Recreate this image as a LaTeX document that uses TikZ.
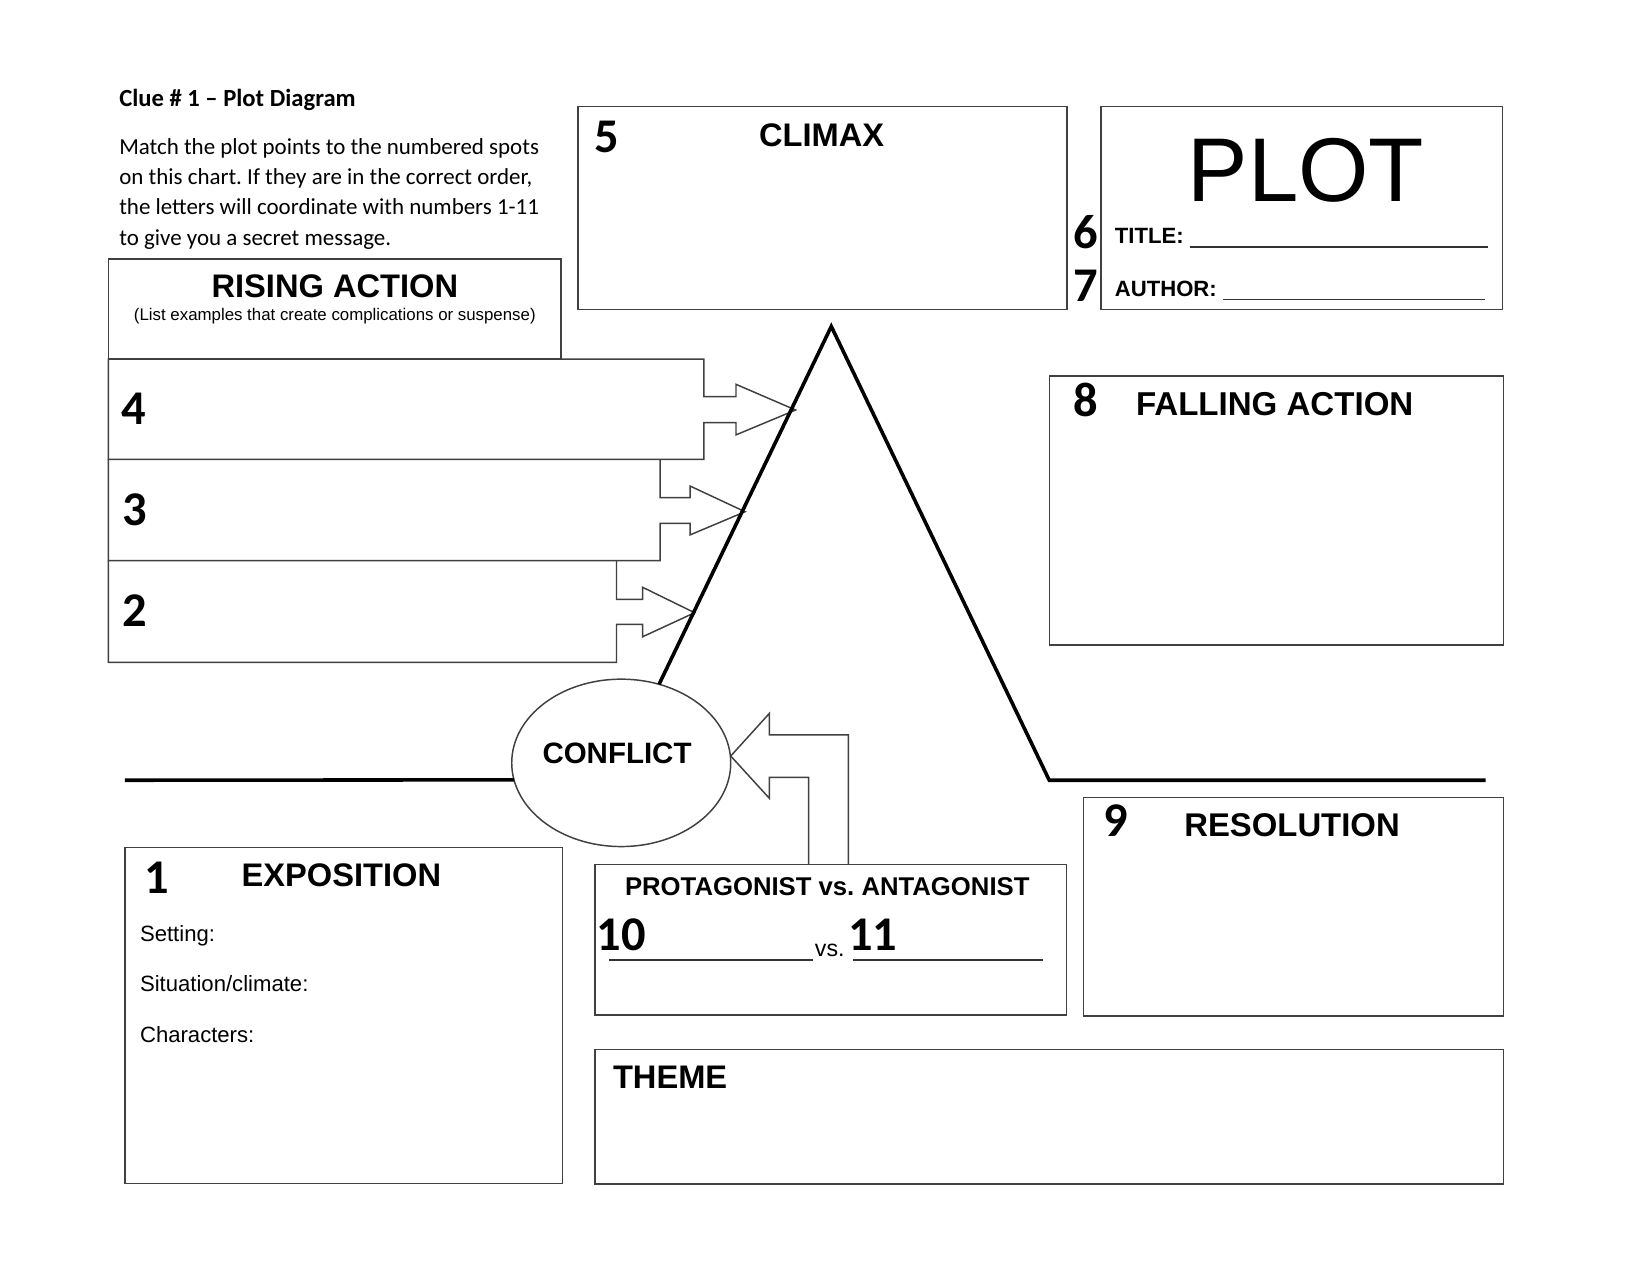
\documentclass[tikz,border=0pt]{standalone}
\usepackage{fontspec}
\setmainfont{Liberation Sans}
\newfontfamily\calfont{Carlito}
\usetikzlibrary{shapes.geometric}
\newcommand\setfs[1]{\fontsize{#1}{#1}\selectfont}
\frenchspacing
\begin{document}
\begin{tikzpicture}[x=1pt,y=-1pt,
  frame/.style={draw=black!75, line width=1.4pt, line join=miter},
  box/.style={frame, rectangle, inner sep=0pt, outer sep=0pt, anchor=north west},
  bigline/.style={line width=3.4pt, black},
  txt/.style={inner sep=0pt, outer sep=0pt, anchor=base west},
  num/.style={txt, font=\calfont\bfseries\setfs{46}},
  head/.style={txt, font=\bfseries\setfs{31}},
  small/.style={txt, font=\setfs{21}},
  smallb/.style={txt, font=\bfseries\setfs{21}},
  para/.style={txt, font=\calfont\setfs{21.8}}
]
\fill[white] (0,0) rectangle (1568,1211);
\useasboundingbox (0,0) rectangle (1568,1211);

% intro text
\node[txt, font=\calfont\bfseries\setfs{23.4}] (clue) at (113.3,101) {Clue \# 1 – Plot Diagram};
\node[para] (p1) at (113.3,146.3) {Match the plot points to the numbered spots};
\node[para] (p2) at (113.3,175.1) {on this chart. If they are in the correct order,};
\node[para] (p3) at (113.3,203.9) {the letters will coordinate with numbers 1-11};
\node[para] (p4) at (113.3,232.7) {to give you a secret message.};

% rising action header
\node[box, minimum width=430pt, minimum height=95pt] (hdr) at (103,246) {};
\node[txt, anchor=base, font=\bfseries\setfs{31}] (rising) at (318,282.4) {RISING ACTION};
\node[txt, anchor=base, font=\setfs{16}] (risingsub) at (318,304) {(List examples that create complications or suspense)};

% rising action rows with arrows
\draw[frame, fill=white] (103,341) -- (668.5,341) -- (668.5,376.7) -- (699,376.7) -- (699,365)
  -- (755.6,389.4) -- (699,413) -- (699,401.4) -- (668.5,401.4) -- (668.5,436.3) -- (103,436.3) -- cycle;
\draw[frame] (627,436.3) -- (627,472.7) -- (655.4,472.7) -- (655.4,461.6) -- (707.6,486)
  -- (655.4,508) -- (655.4,497) -- (627,497) -- (627,532.5) -- (103,532.5) -- (103,436.3);
\draw[frame] (585.5,532.5) -- (585.5,569.2) -- (610.4,569.2) -- (610.4,557.8) -- (659.7,581.9)
  -- (610.4,604.7) -- (610.4,593) -- (585.5,593) -- (585.5,629) -- (103,629) -- (103,532.5);
\node[num] (n4) at (115,403.6) {4};
\node[num] (n3) at (116,498.6) {3};
\node[num] (n2) at (116,595.2) {2};

% climax
\node[box, minimum width=464.4pt, minimum height=192.5pt] (climax) at (549,101.3) {};
\node[num] (n5) at (565,145) {5};
\node[head] (climaxt) at (720.9,139.3) {CLIMAX};

% plot box
\node[box, minimum width=381.5pt, minimum height=192.5pt] (plotb) at (1045.5,101.3) {};
\node[txt, font=\setfs{86}] (plott) at (1128,191.5) {PLOT};
\node[num] (n6) at (1019.5,235.9) {6};
\node[smallb] (titlet) at (1058.8,231.7) {TITLE:};
\coordinate (tl1) at (1130,234.3);
\coordinate (tl2) at (1413,234.3);
\draw[line width=1.6pt, black!80] (tl1) -- (tl2);
\node[num] (n7) at (1019.5,286.5) {7};
\node[smallb] (authort) at (1058.8,281.8) {AUTHOR:};
\coordinate (al1) at (1161.6,284.3);
\coordinate (al2) at (1410,284.3);
\draw[line width=1.6pt, black!80] (al1) -- (al2);

% falling action
\node[box, minimum width=431.2pt, minimum height=255.5pt] (fall) at (996.6,357.1) {};
\node[num] (n8) at (1019.4,395.7) {8};
\node[txt, font=\bfseries\setfs{31.4}] (fallt) at (1078.9,394.2) {FALLING ACTION};

% resolution
\node[box, minimum width=398.9pt, minimum height=207.4pt] (reso) at (1028.9,757.6) {};
\node[num] (n9) at (1047.9,794) {9};
\node[txt, font=\bfseries\setfs{31.2}] (resot) at (1124.8,794) {RESOLUTION};

% protagonist vs antagonist
\node[box, minimum width=448pt, minimum height=143.1pt] (prot) at (565,820.9) {};
\node[txt, font=\bfseries\setfs{24.4}] (prott) at (593.6,850) {PROTAGONIST vs. ANTAGONIST};
\node[num] (n10) at (566.7,902.3) {10};
\node[txt, font=\setfs{22}] (vs) at (774,908) {vs.};
\node[num] (n11) at (805.7,902.3) {11};
\coordinate (pl1) at (578.7,911.8);
\coordinate (pl2) at (772.5,911.8);
\coordinate (pl3) at (810.5,911.8);
\coordinate (pl4) at (991,911.8);
\draw[line width=1.6pt, black!80] (pl1) -- (pl2);
\draw[line width=1.6pt, black!80] (pl3) -- (pl4);

% exposition
\node[box, minimum width=415.3pt, minimum height=319.1pt] (expo) at (118.7,804.8) {};
\node[num] (n1) at (137.7,848.4) {1};
\node[head] (expot) at (229.5,842.1) {EXPOSITION};
\node[small] (setting) at (133,894.4) {Setting:};
\node[small] (situation) at (133,941.8) {Situation/climate:};
\node[small] (characters) at (133,990.3) {Characters:};

% theme
\node[box, minimum width=862.8pt, minimum height=127.9pt] (theme) at (565,996.6) {};
\node[head] (themet) at (582.2,1033.6) {THEME};

% conflict
\node[ellipse, frame, minimum width=208pt, minimum height=159pt, inner sep=0pt, outer sep=0pt] (conflict) at (590,724.5) {};
\node[txt, anchor=base, font=\bfseries\setfs{28}] (conflictt) at (586,725) {CONFLICT};

% conflict arrow from protagonist box
\coordinate (ctip) at (694,718);
\draw[frame] (768,820.9) -- (768,738.3) -- (730.7,738.3) -- (730.7,758.2) -- (ctip)
  -- (730.7,677.5) -- (730.7,698) -- (805.7,698) -- (805.7,820.9);

% plot line
\coordinate (apex) at (789.5,310);
\coordinate (foot) at (996.5,741);
\coordinate (endR) at (1411,741);
\coordinate (endL) at (118.7,741);
\draw[bigline] (conflict) -- (apex) -- (foot) -- (endR);
\draw[bigline] (endL) -- (conflict.189);
\end{tikzpicture}
\end{document}
